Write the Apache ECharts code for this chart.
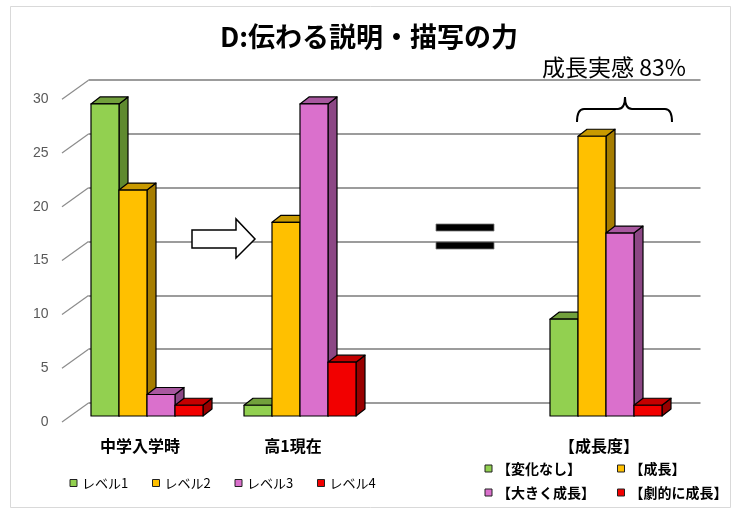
<!DOCTYPE html>
<html>
<head>
<meta charset="utf-8">
<title>D:伝わる説明・描写の力</title>
<script src="https://cdn.jsdelivr.net/npm/echarts@6/dist/echarts.min.js"></script>
<style>
    html, body {margin: 0; padding: 0; background: #fff;}
    #mainChart {width: 738px; height: 517px;}
</style>
</head>
<body>
<div id="mainChart"></div>
<script>
var categories = ['中学入学時', '高1現在', '', '【成長度】'];
var levelNames = ['レベル1', 'レベル2', 'レベル3', 'レベル4'];
var growthNames = ['【変化なし】', '【成長】', '【大きく成長】', '【劇的に成長】'];
// values per level: [中学入学時, 高1現在]
var level1 = [29, 1];
var level2 = [21, 18];
var level3 = [2, 29];
var level4 = [1, 5];
// 成長度 values
var growthValues = [9, 26, 17, 1];
var yTicks = [0, 5, 10, 15, 20, 25, 30];

var frontColors = ['#92d050', '#ffc000', '#da70cc', '#f20000'];
var topColors = ['#72a03c', '#c99a00', '#a8589f', '#c40000'];
var sideColors = ['#5f8a2f', '#a67d00', '#8c4785', '#990000'];

var DX = 9, DY = -7;

function barRender(idx) {
    return function (params, api) {
        var center = api.coord([api.value(0), 0]);
        var top = api.coord([api.value(0), api.value(1)]);
        var band = api.size([1, 0])[0];
        var w = band * 28 / 153;
        var x = center[0] - 2 * w + idx * w;
        var yb = center[1], yt = top[1];
        var line = {stroke: '#000', lineWidth: 1.2, lineJoin: 'round'};
        return {
            type: 'group',
            children: [
                {type: 'polygon', shape: {points: [[x + w, yt], [x + w + DX, yt + DY], [x + w + DX, yb + DY], [x + w, yb]]},
                    style: Object.assign({fill: sideColors[idx]}, line)},
                {type: 'polygon', shape: {points: [[x, yt], [x + DX, yt + DY], [x + w + DX, yt + DY], [x + w, yt]]},
                    style: Object.assign({fill: topColors[idx]}, line)},
                {type: 'rect', shape: {x: x, y: yt, width: w, height: yb - yt},
                    style: Object.assign({fill: frontColors[idx]}, line)}
            ]
        };
    };
}

var levelData = [level1, level2, level3, level4];
var series = [];
for (var i = 0; i < 4; i++) {
    var d = [];
    for (var c = 0; c < levelData[i].length; c++) {
        d.push([c, levelData[i][c]]);
    }
    series.push({
        name: levelNames[i], type: 'custom', xAxisIndex: 0, yAxisIndex: 0,
        itemStyle: {color: frontColors[i]},
        renderItem: barRender(i), data: d, z: 3
    });
}
for (var j = 0; j < 4; j++) {
    series.push({
        name: growthNames[j], type: 'custom', xAxisIndex: 0, yAxisIndex: 0,
        itemStyle: {color: frontColors[j]},
        renderItem: barRender(j), data: [[3, growthValues[j]]], z: 3
    });
}

// left wall diagonals at each tick
series.push({
    type: 'custom', xAxisIndex: 0, yAxisIndex: 0, silent: true, z: 1,
    data: yTicks.map(function (v) { return [0, v]; }),
    renderItem: function (params, api) {
        var y = api.coord([0, api.value(1)])[1];
        var x = params.coordSys.x;
        return {
            type: 'line',
            shape: {x1: x - 8.5, y1: y + 6, x2: x + 18, y2: y - 13},
            style: {stroke: '#8c8c8c', lineWidth: 1.2}
        };
    }
});

var braceStyle = {fill: 'none', stroke: '#000', lineWidth: 2};

var option = {
    backgroundColor: '#fff',
    animation: false,
    textStyle: {fontFamily: '"Noto Sans CJK JP", sans-serif'},
    title: {
        text: 'D:伝わる説明・描写の力',
        left: 'center',
        top: 18,
        textStyle: {fontSize: 27, fontWeight: 'bold', color: '#000', fontFamily: '"Noto Sans CJK JP"'}
    },
    legend: [{
        data: levelNames,
        left: 69.5, top: 476, padding: 0,
        itemWidth: 7, itemHeight: 7, itemGap: 12,
        icon: 'rect',
        itemStyle: {borderColor: '#222', borderWidth: 1},
        textStyle: {fontSize: 13, color: '#000', width: 58, lineHeight: 14}
    }, {
        data: growthNames,
        left: 484.5, top: 459, padding: 0, width: 270,
        itemWidth: 7, itemHeight: 7, itemGap: 5,
        icon: 'rect',
        itemStyle: {borderColor: '#222', borderWidth: 1},
        textStyle: {fontSize: 14, fontWeight: 'bold', color: '#000', width: 115, lineHeight: 19}
    }],
    grid: [
        {left: 70.5, right: 55.5, top: 93.2, bottom: 101},
        {left: 88.5, right: 37.5, top: 80.2, bottom: 114}
    ],
    xAxis: [{
        type: 'category', gridIndex: 0, data: categories,
        axisLine: {show: false}, axisTick: {show: false},
        axisLabel: {margin: 22, fontSize: 16, fontWeight: 'bold', color: '#000', interval: 0, padding: [0, 14, 0, 0]}
    }, {
        type: 'category', gridIndex: 1, data: categories, show: false
    }],
    yAxis: [{
        type: 'value', gridIndex: 0, min: 0, max: 30, interval: 5,
        axisLine: {show: false}, axisTick: {show: false}, splitLine: {show: false},
        axisLabel: {margin: 22, fontSize: 14, color: '#595959', fontFamily: '"Liberation Sans"',
            verticalAlign: 'top', lineHeight: 12}
    }, {
        type: 'value', gridIndex: 1, min: 0, max: 30, interval: 5,
        axisLine: {show: false}, axisTick: {show: false}, axisLabel: {show: false},
        splitLine: {show: true, lineStyle: {color: '#9c9c9c', width: 2}}
    }],
    graphic: [
        {type: 'rect', z: -1, shape: {x: 10.5, y: 6.5, width: 720, height: 501},
            style: {fill: 'none', stroke: '#d9d9d9', lineWidth: 1}},
        {type: 'text', z: 10, x: 614, y: 67,
            style: {text: '成長実感 83%', font: '23px "Noto Sans CJK JP"', fill: '#000', align: 'center', verticalAlign: 'middle'}},
        {type: 'group', z: 10, children: [
            {type: 'bezierCurve', shape: {x1: 577, y1: 122, cpx1: 577, cpy1: 109, x2: 584, y2: 109}, style: braceStyle},
            {type: 'line', shape: {x1: 584, y1: 109, x2: 618, y2: 109}, style: braceStyle},
            {type: 'bezierCurve', shape: {x1: 618, y1: 109, cpx1: 625, cpy1: 109, x2: 625, y2: 97}, style: braceStyle},
            {type: 'bezierCurve', shape: {x1: 625, y1: 97, cpx1: 625, cpy1: 109, x2: 632, y2: 109}, style: braceStyle},
            {type: 'line', shape: {x1: 632, y1: 109, x2: 665, y2: 109}, style: braceStyle},
            {type: 'bezierCurve', shape: {x1: 665, y1: 109, cpx1: 672, cpy1: 109, x2: 672, y2: 122}, style: braceStyle}
        ]},
        {type: 'polygon', z: 10,
            shape: {points: [[192, 230], [236, 230], [236, 219], [255, 239], [236, 258], [236, 248], [192, 248]]},
            style: {fill: '#fff', stroke: '#000', lineWidth: 1.5}},
        {type: 'rect', z: 10, shape: {x: 436, y: 224, width: 58, height: 7},
            style: {fill: '#000', stroke: '#777', lineWidth: 0.8}},
        {type: 'rect', z: 10, shape: {x: 436, y: 242, width: 58, height: 7},
            style: {fill: '#000', stroke: '#777', lineWidth: 0.8}}
    ],
    series: series
};

var mainChart = echarts.init(document.getElementById('mainChart'));
mainChart.setOption(option);
</script>
</body>
</html>
